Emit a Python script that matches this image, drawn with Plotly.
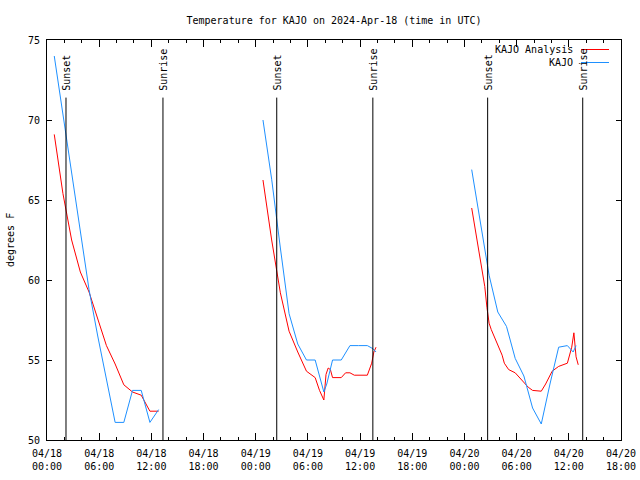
import plotly.graph_objects as go

# ---------------- data ----------------
title_text = "Temperature for KAJO on 2024-Apr-18 (time in UTC)"
y_title = "degrees F"
obs_name = "KAJO"
ana_name = "KAJO Analysis"

# observations (KAJO), hourly with a few specials
obs_d1_t = ["2024-04-18 00:50", "2024-04-18 01:50", "2024-04-18 02:50", "2024-04-18 03:50",
            "2024-04-18 04:50", "2024-04-18 05:50", "2024-04-18 06:50", "2024-04-18 07:50",
            "2024-04-18 08:50", "2024-04-18 09:50", "2024-04-18 10:50", "2024-04-18 11:50",
            "2024-04-18 12:50"]
obs_d1_v = [74.0, 70.3, 66.5, 62.8, 59.4, 56.5, 53.8, 51.1, 51.1, 53.1, 53.1, 51.1, 51.9]

obs_d2_t = ["2024-04-19 00:50", "2024-04-19 01:50", "2024-04-19 02:50", "2024-04-19 03:50",
            "2024-04-19 04:50", "2024-04-19 05:50", "2024-04-19 06:50", "2024-04-19 07:50",
            "2024-04-19 08:10", "2024-04-19 08:50", "2024-04-19 09:50", "2024-04-19 10:50",
            "2024-04-19 11:50", "2024-04-19 12:50", "2024-04-19 13:30", "2024-04-19 13:50"]
obs_d2_v = [70.0, 66.3, 62.0, 57.9, 56.0, 55.0, 55.0, 53.0, 53.5, 55.0, 55.0, 55.9,
            55.9, 55.9, 55.7, 55.5]

obs_d3_t = ["2024-04-20 00:50", "2024-04-20 01:50", "2024-04-20 02:50", "2024-04-20 03:50",
            "2024-04-20 04:50", "2024-04-20 05:50", "2024-04-20 06:50", "2024-04-20 07:50",
            "2024-04-20 08:50", "2024-04-20 09:50", "2024-04-20 10:50", "2024-04-20 11:50",
            "2024-04-20 12:30", "2024-04-20 12:50"]
obs_d3_v = [66.9, 63.6, 60.3, 58.0, 57.1, 55.1, 54.0, 52.0, 51.0, 53.5, 55.8, 55.9,
            55.5, 55.9]

# analysis (KAJO Analysis)
ana_d1_t = ["2024-04-18 00:50", "2024-04-18 01:50", "2024-04-18 02:50", "2024-04-18 03:50",
            "2024-04-18 04:50", "2024-04-18 05:50", "2024-04-18 06:50", "2024-04-18 07:50",
            "2024-04-18 08:50", "2024-04-18 09:50", "2024-04-18 10:50", "2024-04-18 11:50",
            "2024-04-18 12:50"]
ana_d1_v = [69.1, 65.4, 62.5, 60.5, 59.25, 57.5, 55.9, 54.75, 53.45, 53.0, 52.8, 51.8, 51.8]

ana_d2_t = ["2024-04-19 00:50", "2024-04-19 01:50", "2024-04-19 02:50", "2024-04-19 03:50",
            "2024-04-19 04:50", "2024-04-19 05:50", "2024-04-19 06:50", "2024-04-19 07:20",
            "2024-04-19 07:50", "2024-04-19 08:05", "2024-04-19 08:20", "2024-04-19 08:35",
            "2024-04-19 08:50", "2024-04-19 09:50", "2024-04-19 10:20", "2024-04-19 10:50",
            "2024-04-19 11:20", "2024-04-19 12:50", "2024-04-19 13:20", "2024-04-19 13:35",
            "2024-04-19 13:50"]
ana_d2_v = [66.25, 62.5, 59.2, 56.8, 55.5, 54.3, 53.9, 53.1, 52.5, 54.1, 54.5, 54.4,
            53.9, 53.9, 54.2, 54.2, 54.05, 54.05, 54.8, 55.5, 55.8]

ana_d3_t = ["2024-04-20 00:50", "2024-04-20 01:35", "2024-04-20 02:20", "2024-04-20 02:35",
            "2024-04-20 02:50", "2024-04-20 03:05", "2024-04-20 03:50", "2024-04-20 04:20",
            "2024-04-20 04:35", "2024-04-20 05:05", "2024-04-20 05:50", "2024-04-20 06:35",
            "2024-04-20 07:20", "2024-04-20 07:50", "2024-04-20 08:50", "2024-04-20 09:20",
            "2024-04-20 10:05", "2024-04-20 10:50", "2024-04-20 11:50", "2024-04-20 12:20",
            "2024-04-20 12:35", "2024-04-20 12:50", "2024-04-20 13:05"]
ana_d3_v = [64.5, 62.1, 59.6, 58.3, 57.3, 56.9, 55.9, 55.3, 54.8, 54.4, 54.2, 53.75,
            53.3, 53.1, 53.05, 53.5, 54.3, 54.6, 54.8, 55.8, 56.7, 55.2, 54.7]

sunset_t = ["2024-04-18 02:11", "2024-04-19 02:25", "2024-04-20 02:40"]
sunrise_t = ["2024-04-18 13:20", "2024-04-19 13:28", "2024-04-20 13:36"]

x_range = ["2024-04-18 00:00", "2024-04-20 18:00"]
y_range = [50, 75]

# ---------------- figure ----------------
def join(*segs):
    out = []
    for i, s in enumerate(segs):
        if i:
            out.append(None)
        out.extend(s)
    return out

RED = "#ff0000"
BLUE = "#1e90ff"

fig = go.Figure()
fig.add_trace(go.Scatter(x=join(ana_d1_t, ana_d2_t, ana_d3_t), y=join(ana_d1_v, ana_d2_v, ana_d3_v),
                         mode="lines", name=ana_name, line=dict(color=RED, width=1),
                         connectgaps=False))
fig.add_trace(go.Scatter(x=join(obs_d1_t, obs_d2_t, obs_d3_t), y=join(obs_d1_v, obs_d2_v, obs_d3_v),
                         mode="lines", name=obs_name, line=dict(color=BLUE, width=1),
                         connectgaps=False))
# invisible helper trace so the second (time-of-day) label axis is drawn
fig.add_trace(go.Scatter(x=x_range, y=y_range, xaxis="x2", mode="lines",
                         line=dict(width=0), hoverinfo="skip", showlegend=False, opacity=0))

line_top = 71.4
label_y = 71.7
for t in sunset_t + sunrise_t:
    fig.add_shape(type="line", xref="x", yref="y", x0=t, x1=t, y0=y_range[0], y1=line_top,
                  line=dict(color="black", width=1))
for t in sunset_t:
    fig.add_annotation(x=t, y=label_y, xref="x", yref="y", text="Sunset", textangle=-90,
                       showarrow=False, xanchor="center", yanchor="bottom", xshift=1)
for t in sunrise_t:
    fig.add_annotation(x=t, y=label_y, xref="x", yref="y", text="Sunrise", textangle=-90,
                       showarrow=False, xanchor="center", yanchor="bottom", xshift=1)

# gnuplot-style key (text right, sample to the right)
L, R, T, B = 47, 621, 40, 440
W, H = R - L, B - T
def px(xp):
    return (xp - L) / W
def py(yp):
    return (B - yp) / H

for name, col, yp in [(ana_name, RED, 49.5), (obs_name, BLUE, 62.5)]:
    fig.add_annotation(x=px(575), y=py(yp), xref="paper", yref="paper", text=name,
                       showarrow=False, xanchor="right", yanchor="middle")
    fig.add_shape(type="line", xref="paper", yref="paper", x0=px(581), x1=px(609),
                  y0=py(yp), y1=py(yp), line=dict(color=col, width=1))

fig.add_annotation(x=px(10), y=0.5, xref="paper", yref="paper", text=y_title, textangle=-90,
                   showarrow=False, xanchor="center", yanchor="middle")

axis_common = dict(showline=True, linecolor="black", linewidth=1, mirror="ticks",
                   ticks="inside", tickcolor="black", showgrid=False, zeroline=False,
                   automargin=False)

fig.update_layout(
    width=640, height=480,
    margin=dict(l=L, r=640 - R, t=T, b=480 - B, pad=0),
    paper_bgcolor="white", plot_bgcolor="white",
    font=dict(family="DejaVu Sans Mono", size=10, color="black"),
    showlegend=False,
    title=dict(text=title_text, x=(L + R) / 2 / 640, xanchor="center", y=1 - 20 / 480,
               yanchor="middle", font=dict(size=10)),
    xaxis=dict(type="date", range=x_range, tick0="2024-04-18 00:00", dtick=6 * 3600000,
               tickformat="%m/%d", ticklen=7, ticklabelstandoff=4,
               minor=dict(dtick=2 * 3600000, ticklen=3, ticks="inside", tickcolor="black"),
               **axis_common),
    xaxis2=dict(type="date", range=x_range, overlaying="x", side="bottom", anchor="y",
                tick0="2024-04-18 00:00", dtick=6 * 3600000, tickformat="%H:%M",
                showline=False, ticks="", showgrid=False, zeroline=False,
                automargin=False, ticklabelstandoff=19),
    yaxis=dict(range=y_range, dtick=5, ticklen=5, ticklabelstandoff=4, **axis_common),
)

fig.write_html("out.html")
